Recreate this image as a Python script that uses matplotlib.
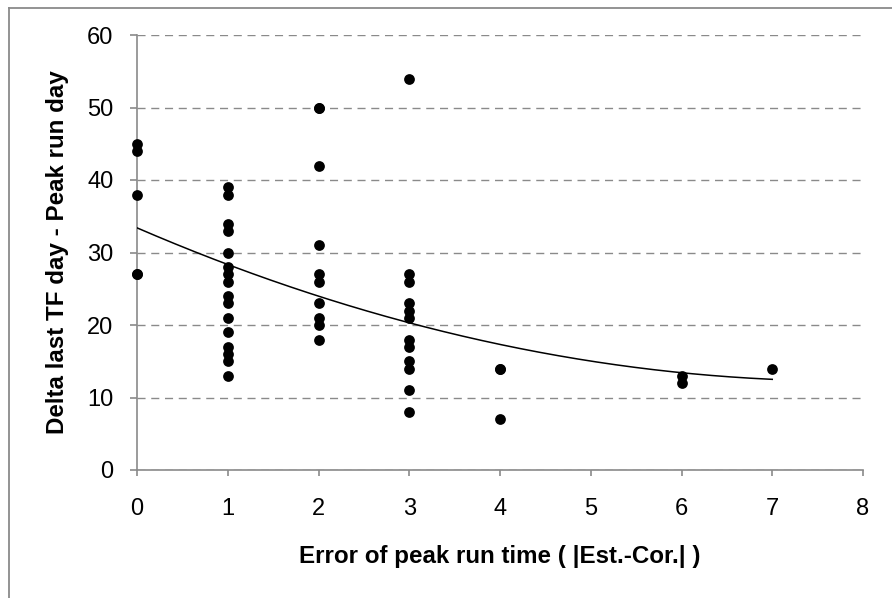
import numpy as np
import matplotlib.pyplot as plt
from matplotlib.lines import Line2D

# Error of peak run time (x) and the delta values read at each x
x_values = [0, 1, 2, 3, 4, 6, 7]
delta_at_0 = [45, 44, 38, 27, 27]
delta_at_1 = [39, 38, 34, 33, 30, 28, 27, 26, 24, 23, 21, 19, 17, 16, 15, 13]
delta_at_2 = [50, 50, 42, 31, 27, 26, 23, 21, 20, 18]
delta_at_3 = [54, 27, 26, 23, 22, 21, 18, 17, 15, 14, 11, 8]
delta_at_4 = [14, 14, 7]
delta_at_6 = [13, 12]
delta_at_7 = [14]

# polynomial trendline (order 2): c0 + c1*x + c2*x^2
trend_coef = [0.345, -5.40, 33.4]
trend_range = [0, 7]

x_ticks = [0, 1, 2, 3, 4, 5, 6, 7, 8]
y_ticks = [0, 10, 20, 30, 40, 50, 60]

groups = [delta_at_0, delta_at_1, delta_at_2, delta_at_3, delta_at_4, delta_at_6, delta_at_7]
xs = np.concatenate([[x] * len(g) for x, g in zip(x_values, groups)])
ys = np.concatenate(groups)

plt.rcParams['font.family'] = ['Liberation Sans', 'DejaVu Sans']
grey = '#8a8a8a'

fig = plt.figure(figsize=(8.92, 5.98), dpi=100)
# chart border, only the left and top edges fall inside the picture
bx, by = 8.5 / 892, 1 - 7.5 / 598
fig.add_artist(Line2D([bx, bx], [0, by], transform=fig.transFigure, color=grey, linewidth=1.3))
fig.add_artist(Line2D([bx, 1], [by, by], transform=fig.transFigure, color=grey, linewidth=1.3))

ax = fig.add_axes([137 / 892, 1 - 470 / 598, 726 / 892, 435 / 598])

xt = np.linspace(trend_range[0], trend_range[1], 200)
ax.plot(xt, np.polyval(trend_coef, xt), color='black', linewidth=1.1, zorder=3)

ax.scatter(xs, ys, s=60, color='black', zorder=4, linewidths=0, clip_on=False)

ax.set_xlim(0, 8)
ax.set_ylim(0, 60)
ax.set_xticks(x_ticks)
ax.set_yticks(y_ticks)
ax.yaxis.grid(True, color=grey, linestyle=(0, (5.8, 4.1)), linewidth=1.0)
ax.set_axisbelow(True)

for side in ['top', 'right']:
    ax.spines[side].set_visible(False)
for side in ['left', 'bottom']:
    ax.spines[side].set_color(grey)
    ax.spines[side].set_linewidth(1.2)

ax.tick_params(axis='y', direction='out', length=5, width=1.2, color=grey,
               labelsize=17, pad=12)
ax.tick_params(axis='x', direction='out', length=4, width=1.2, color=grey,
               labelsize=17, pad=16)

ax.set_xlabel('Error of peak run time ( |Est.-Cor.| )', fontsize=17.4,
              fontweight='bold', labelpad=18)
ax.set_ylabel('Delta last TF day - Peak run day', fontsize=17.4,
              fontweight='bold', labelpad=13)

fig.savefig('out.png', dpi=100)
